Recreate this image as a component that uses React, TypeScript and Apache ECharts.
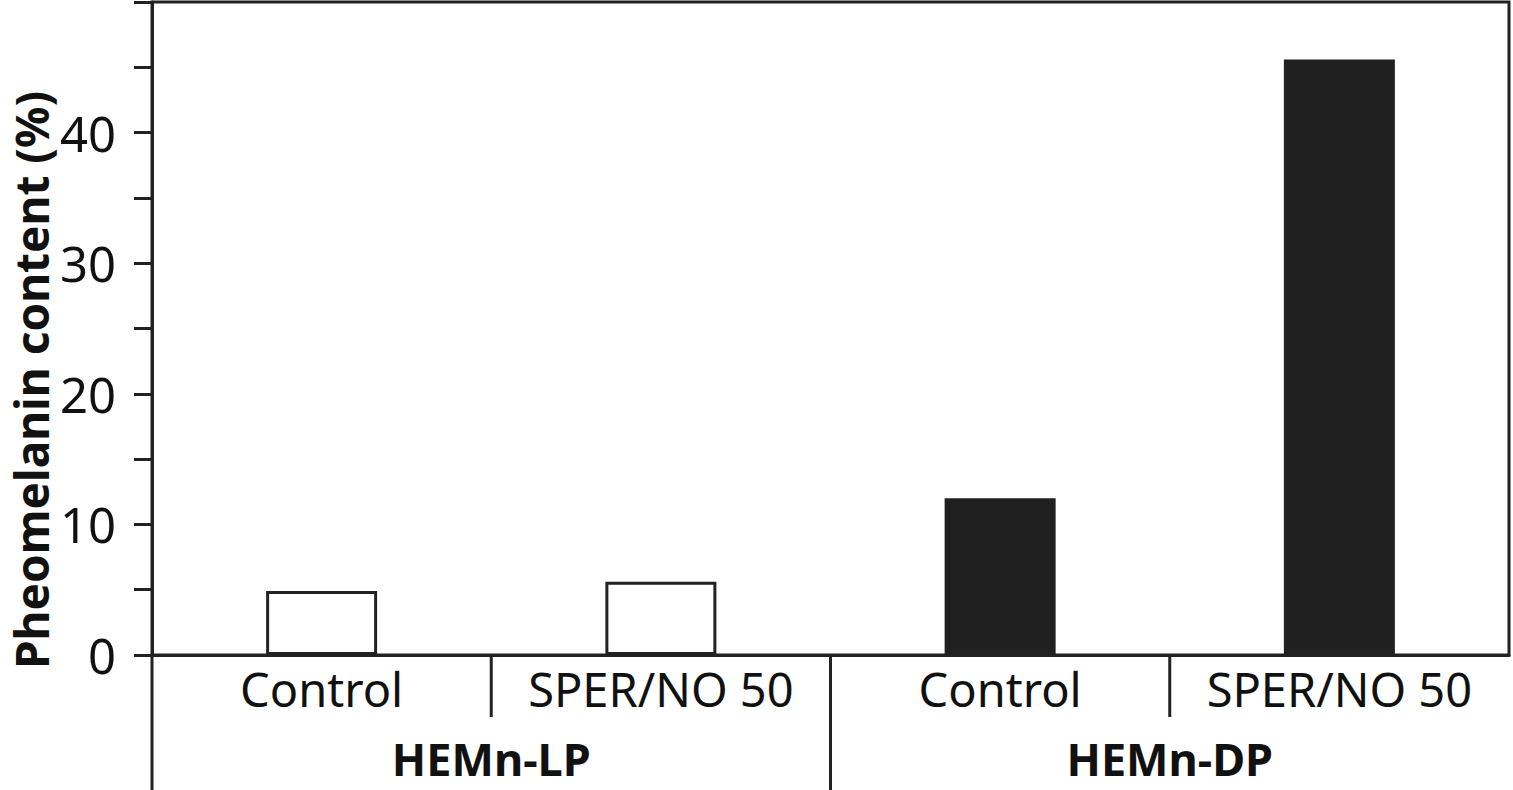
import React, { useEffect, useRef } from "react";
import * as echarts from "echarts";

const categories = ["Control", "SPER/NO 50", "Control", "SPER/NO 50"];
const groups = ["HEMn-LP", "HEMn-DP"];
const values = [4.9, 5.6, 12.0, 45.6];
const yTitle = "Pheomelanin content (%)";
const yMin = 0;
const yMax = 50;
const yInterval = 5;

const INK = "#222222";

export default function App() {
  const ref = useRef<HTMLDivElement>(null);
  useEffect(() => {
    if (!ref.current) return;
    const chart = echarts.init(ref.current, undefined, { renderer: "svg" });
    const font = "'Noto Sans', sans-serif";
    chart.setOption({
      animation: false,
      backgroundColor: "#ffffff",
      grid: {
        left: 152,
        right: 4,
        top: 2,
        bottom: 135,
        containLabel: false,
        outerBoundsMode: "none",
        show: true,
        borderColor: INK,
        borderWidth: 3,
        backgroundColor: "transparent",
      },
      xAxis: [
        {
          type: "category",
          data: categories,
          position: "bottom",
          axisLine: { show: true, lineStyle: { color: INK, width: 3 } },
          axisTick: { show: false },
          axisLabel: {
            color: "#111",
            fontFamily: font,
            fontSize: 47,
            lineHeight: 50,
            margin: 9,
            interval: 0,
          },
        },
        {
          type: "category",
          data: groups,
          position: "bottom",
          offset: 0,
          axisLine: { show: false },
          axisTick: { show: false },
          axisLabel: {
            color: "#111",
            fontFamily: font,
            fontSize: 45,
            fontWeight: "bold",
            lineHeight: 45,
            margin: 81,
            interval: 0,
          },
        },
      ],
      yAxis: {
        type: "value",
        min: yMin,
        max: yMax,
        interval: yInterval,
        splitLine: { show: false },
        axisLine: { show: true, lineStyle: { color: INK, width: 3 } },
        axisTick: { show: true, length: 18, lineStyle: { color: INK, width: 3 } },
        axisLabel: {
          color: "#111",
          fontFamily: font,
          fontSize: 49,
          margin: 36,
          formatter: (v: number) => (v % 10 === 0 && v < yMax ? String(v) : ""),
        },
      },
      series: [
        {
          type: "bar",
          xAxisIndex: 0,
          barWidth: 111,
          data: values.map((v, i) => ({
            value: v,
            itemStyle:
              i < 2
                ? { color: "#ffffff", borderColor: INK, borderWidth: 3 }
                : { color: "#202020", borderColor: "#202020", borderWidth: 0 },
          })),
        },
      ],
    });

    const xAt = (i: number) => chart.convertToPixel({ xAxisIndex: 0 }, i) as number;
    const y0 = chart.convertToPixel({ yAxisIndex: 0 }, 0) as number;
    const band = xAt(1) - xAt(0);
    const left = xAt(0) - band / 2;
    const b1 = xAt(0) + band / 2;
    const b2 = xAt(1) + band / 2;
    const b3 = xAt(2) + band / 2;
    const lineStyle = { stroke: INK, lineWidth: 3 };
    chart.setOption({
      graphic: [
        { type: "line", shape: { x1: left, y1: y0, x2: left, y2: 790 }, style: lineStyle },
        { type: "line", shape: { x1: b2, y1: y0, x2: b2, y2: 790 }, style: lineStyle },
        { type: "line", shape: { x1: b1, y1: y0, x2: b1, y2: y0 + 62 }, style: lineStyle },
        { type: "line", shape: { x1: b3, y1: y0, x2: b3, y2: y0 + 62 }, style: lineStyle },
        {
          type: "text",
          x: 31,
          y: 380,
          rotation: Math.PI / 2,
          style: {
            text: yTitle,
            fill: "#111",
            font: `bold 46px 'Noto Sans', sans-serif`,
            align: "center",
            verticalAlign: "middle",
          },
        },
      ],
    });

    return () => chart.dispose();
  }, []);
  return (
    <div
      ref={ref}
      style={{ position: "absolute", left: 0, top: 0, width: 1513, height: 790 }}
    />
  );
}
